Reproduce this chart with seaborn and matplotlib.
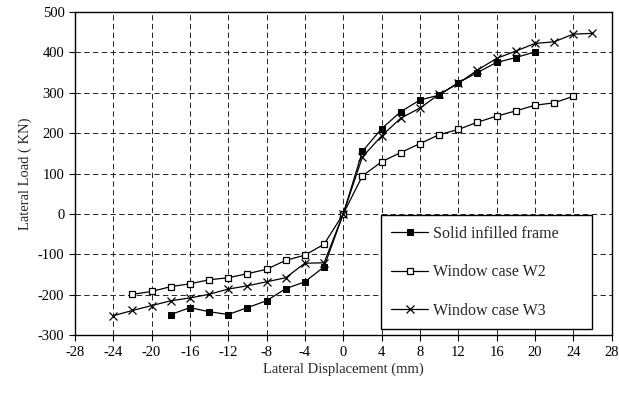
import numpy as np
import pandas as pd
import matplotlib
matplotlib.use("Agg")
import matplotlib.pyplot as plt
import seaborn as sns

# Datos
solid_x = [-18, -16, -14, -12, -10, -8, -6, -4, -2, 0, 2, 4, 6, 8, 10, 12, 14, 16, 18, 20]
solid_y = [-249, -232, -242, -249, -232, -215, -185, -168, -131, 0,
           155, 211, 253, 282, 294, 325, 350, 375, 387, 401]

w2_x = [-22, -20, -18, -16, -14, -12, -10, -8, -6, -4, -2, 0,
        2, 4, 6, 8, 10, 12, 14, 16, 18, 20, 22, 24]
w2_y = [-199, -192, -180, -173, -163, -158, -148, -137, -115, -102, -75, 0,
        94, 129, 152, 174, 196, 209, 227, 242, 255, 269, 275, 291]

w3_x = [-24, -22, -20, -18, -16, -14, -12, -10, -8, -6, -4, -2, 0,
        2, 4, 6, 8, 10, 12, 14, 16, 18, 20, 22, 24, 26]
w3_y = [-252, -239, -227, -215, -208, -199, -186, -178, -168, -158, -122, -121, 0,
        141, 193, 237, 262, 296, 323, 356, 385, 403, 422, 426, 445, 447]

series_names = ["Solid infilled frame", "Window case W2", "Window case W3"]

x_ticks = np.arange(-28, 29, 4)
y_ticks = np.arange(-300, 501, 100)

sns.set_style("white")
plt.rcParams["font.family"] = ["Liberation Serif", "DejaVu Serif"]
plt.rcParams["axes.unicode_minus"] = False

fig = plt.figure(figsize=(6.19, 3.98), dpi=100)
ax = fig.add_axes([0.121, 0.158, 0.867, 0.812])

df_solid = pd.DataFrame({"x": solid_x, "y": solid_y})
df_w2 = pd.DataFrame({"x": w2_x, "y": w2_y})
df_w3 = pd.DataFrame({"x": w3_x, "y": w3_y})

sns.lineplot(data=df_solid, x="x", y="y", ax=ax, color="black", linewidth=0.9,
             marker="s", markersize=5, markerfacecolor="black",
             markeredgecolor="black", label=series_names[0], sort=False)
sns.lineplot(data=df_w2, x="x", y="y", ax=ax, color="black", linewidth=0.9,
             marker="s", markersize=4.5, markerfacecolor="white",
             markeredgecolor="black", markeredgewidth=0.9, label=series_names[1], sort=False)
sns.lineplot(data=df_w3, x="x", y="y", ax=ax, color="black", linewidth=0.9,
             marker="x", markersize=6, markeredgecolor="black",
             markeredgewidth=0.9, label=series_names[2], sort=False)

ax.set_xlim(-28, 28)
ax.set_ylim(-300, 500)
ax.set_xticks(x_ticks)
ax.set_yticks(y_ticks)
ax.grid(True, color="#222222", linestyle=(0, (5.5, 3.5)), linewidth=0.7)
ax.set_axisbelow(True)

for s in ax.spines.values():
    s.set_color("black")
    s.set_linewidth(1)

ax.tick_params(axis="both", direction="out", length=4, width=0.8,
               colors="black", labelsize=10.5, bottom=True, left=True)
ax.set_xlabel("Lateral Displacement (mm)", fontsize=10.5, labelpad=3)
ax.set_ylabel("Lateral Load ( KN)", fontsize=10.5, labelpad=4)

leg = ax.legend(loc="lower left", bbox_to_anchor=(0.570, 0.019, 0.394, 0.346),
                mode="expand", frameon=True, fancybox=False, fontsize=11.5,
                handlelength=2.3, labelspacing=1.4, borderpad=0.65,
                handletextpad=0.3, borderaxespad=0)
leg.get_frame().set_edgecolor("black")
leg.get_frame().set_linewidth(1)
leg.get_frame().set_alpha(1)

fig.savefig("out.png", dpi=100)
